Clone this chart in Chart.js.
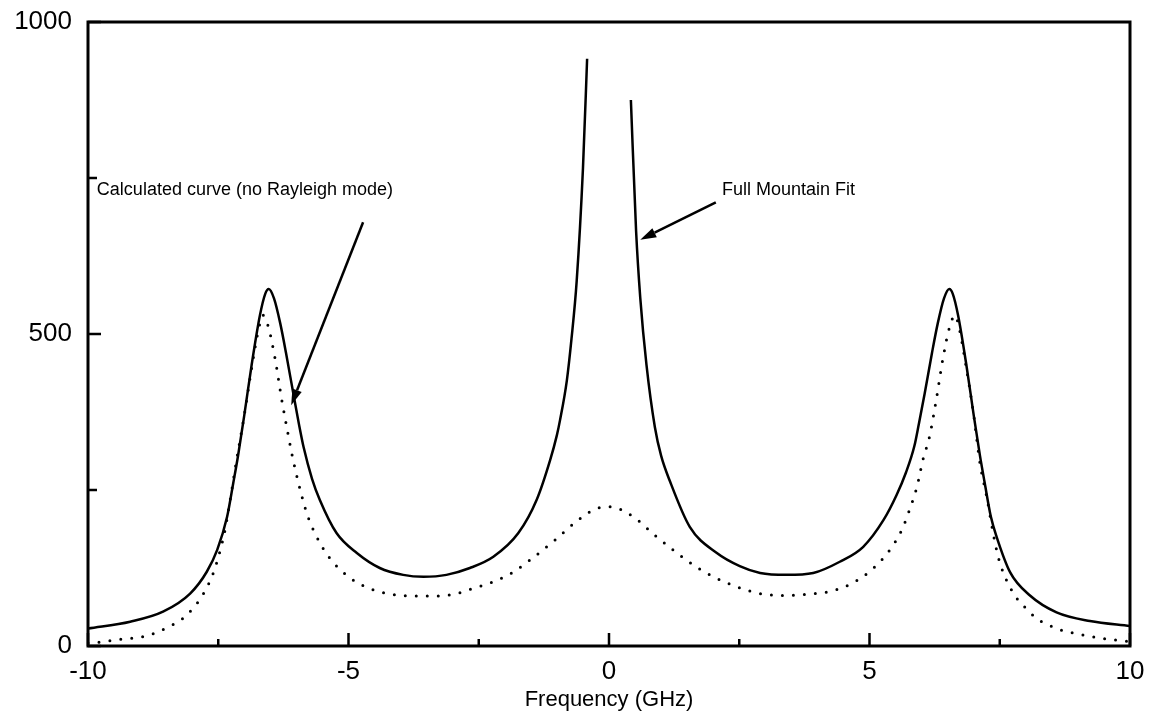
<!DOCTYPE html>
<html lang="en">
<head>
    <meta charset="UTF-8">
    <script src="https://cdn.jsdelivr.net/npm/chart.js"></script>
    <title>Frequency spectrum fit</title>
    <style>
        body {
            margin: 0;
            padding: 0;
            background: #ffffff;
        }
        canvas {
            display: block;
        }
    </style>
</head>
<body>
    <canvas id="spectrumChart" width="1156" height="722"></canvas>

    <script>
        // Full Mountain fit (solid) - the central Rayleigh spike is cut off, hence the null
        const fullFreq = [-10, -9.19, -8.56, -8.04, -7.72, -7.52, -7.33, -7.21, -7.12, -7, -6.86, -6.7, -6.6, -6.53, -6.43, -6.31, -6.2,
            -6.06, -5.95, -5.86, -5.7, -5.55, -5.23, -4.84, -4.4, -3.95, -3.56, -3.12, -2.67, -2.22, -1.74, -1.39, -1.13, -1.0, -0.94,
            -0.81, -0.72, -0.62, -0.5, -0.42,
            0,
            0.42, 0.52, 0.6, 0.72, 0.88, 1.0, 1.17, 1.55, 2.07, 2.51, 2.9, 3.41, 3.92, 4.43, 4.88, 5.27, 5.52, 5.7, 5.86, 5.95, 6.06,
            6.2, 6.31, 6.43, 6.53, 6.6, 6.7, 6.86, 7, 7.12, 7.21, 7.33, 7.44, 7.7, 8.08, 8.59, 9.23, 10];
        const fullCounts = [28, 39, 55, 84, 119, 154, 207, 262, 305, 370, 450, 530, 564, 572, 557, 517, 470,
            405, 355, 318, 268, 234, 181, 149, 125, 114, 111, 114, 125, 143, 181, 234, 298, 338, 362,
            425, 492, 585, 765, 941,
            null,
            875, 665, 558, 450, 351, 305, 264, 191, 149, 128, 117, 114, 117, 135, 159, 202, 242, 278, 320, 357, 405,
            470, 517, 557, 572, 564, 530, 450, 370, 305, 262, 207, 175, 118, 81, 54, 40, 32];

        // Calculated curve without the Rayleigh mode (dotted)
        const calcFreq = [-10, -9.8, -9.35, -8.94, -8.52, -8.1, -7.79, -7.6, -7.47, -7.37, -7.31, -7.24, -7.18, -7, -6.85, -6.72,
            -6.64, -6.54, -6.41, -6.28, -6.15, -6.09, -5.96, -5.79, -5.61, -5.37, -5, -4.59, -4.17, -3.76, -3.34, -2.92, -2.7,
            -2.28, -1.87, -1.45, -1.02, -0.59, -0.17, 0.02, 0.45, 0.86, 1.29, 1.71, 2.13, 2.55, 2.96, 3.38, 3.79, 4.21, 4.63,
            5.04, 5.39, 5.62, 5.78, 5.91, 6.03, 6.15, 6.28, 6.41, 6.54, 6.64, 6.72, 6.85, 7, 7.12, 7.25, 7.38, 7.47, 7.6,
            7.83, 8.02, 8.21, 8.43, 8.66, 9.07, 9.49, 9.9, 10];
        const calcCounts = [5, 6, 11, 15, 28, 50, 83, 116, 151, 186, 215, 250, 282, 370, 450, 510,
            530, 512, 461, 394, 335, 309, 261, 210, 175, 142, 111, 92, 83, 80, 80, 84, 90,
            101, 117, 142, 171, 202, 222, 223, 208, 179, 150, 125, 106, 92, 83, 81, 83, 87, 99,
            122, 154, 186, 221, 255, 300, 335, 394, 461, 512, 530, 510, 450, 370, 293, 239, 178, 143, 111,
            76, 59, 44, 34, 26, 18, 12, 8, 7];

        const xTicks = [-10, -5, 0, 5, 10];
        const xMinorTicks = [-7.5, -2.5, 2.5, 7.5];
        const yTicks = [0, 500, 1000];
        const yMinorTicks = [250, 750];

        // labels with arrows: text anchor, arrow tail and arrow tip in data units
        const notes = [
            { text: 'Calculated curve (no Rayleigh mode)', at: [-9.83, 731], from: [-4.72, 679], to: [-6.1, 386] },
            { text: 'Full Mountain Fit', at: [2.17, 731], from: [2.05, 711], to: [0.6, 651] }
        ];

        const toPoints = (xs, ys) => xs.map((v, i) => ({ x: v, y: ys[i] }));

        const frame = {
            id: 'frame',
            afterDatasetsDraw(chart) {
                const { ctx, chartArea: a, scales: { x, y } } = chart;
                ctx.save();
                ctx.strokeStyle = '#000';
                ctx.fillStyle = '#000';
                ctx.lineWidth = 3;
                ctx.strokeRect(a.left, a.top, a.right - a.left, a.bottom - a.top);

                // inward ticks on bottom and left axes
                ctx.lineWidth = 2.5;
                ctx.beginPath();
                xTicks.forEach(v => { const px = x.getPixelForValue(v); ctx.moveTo(px, a.bottom); ctx.lineTo(px, a.bottom - 13); });
                xMinorTicks.forEach(v => { const px = x.getPixelForValue(v); ctx.moveTo(px, a.bottom); ctx.lineTo(px, a.bottom - 7); });
                yTicks.forEach(v => { const py = y.getPixelForValue(v); ctx.moveTo(a.left, py); ctx.lineTo(a.left + 13, py); });
                yMinorTicks.forEach(v => { const py = y.getPixelForValue(v); ctx.moveTo(a.left, py); ctx.lineTo(a.left + 9, py); });
                ctx.stroke();

                // annotations
                ctx.font = '18px "Liberation Sans", Arial, sans-serif';
                ctx.textBaseline = 'middle';
                ctx.textAlign = 'left';
                notes.forEach(n => {
                    ctx.fillText(n.text, x.getPixelForValue(n.at[0]), y.getPixelForValue(n.at[1]));
                    const x1 = x.getPixelForValue(n.from[0]), y1 = y.getPixelForValue(n.from[1]);
                    const x2 = x.getPixelForValue(n.to[0]), y2 = y.getPixelForValue(n.to[1]);
                    const ang = Math.atan2(y2 - y1, x2 - x1);
                    const len = 16, half = 5;
                    const bx = x2 - len * Math.cos(ang), by = y2 - len * Math.sin(ang);
                    ctx.lineWidth = 2.5;
                    ctx.beginPath();
                    ctx.moveTo(x1, y1);
                    ctx.lineTo(bx, by);
                    ctx.stroke();
                    ctx.beginPath();
                    ctx.moveTo(x2, y2);
                    ctx.lineTo(bx + half * Math.sin(ang), by - half * Math.cos(ang));
                    ctx.lineTo(bx - half * Math.sin(ang), by + half * Math.cos(ang));
                    ctx.closePath();
                    ctx.fill();
                });
                ctx.restore();
            }
        };

        new Chart(document.getElementById('spectrumChart').getContext('2d'), {
            type: 'line',
            data: {
                datasets: [{
                    label: 'Full Mountain Fit',
                    data: toPoints(fullFreq, fullCounts),
                    borderColor: '#000',
                    borderWidth: 2.5,
                    pointRadius: 0,
                    cubicInterpolationMode: 'monotone',
                    spanGaps: false,
                    fill: false
                }, {
                    label: 'Calculated curve (no Rayleigh mode)',
                    data: toPoints(calcFreq, calcCounts),
                    borderColor: '#000',
                    borderWidth: 3,
                    borderDash: [0, 11],
                    borderCapStyle: 'round',
                    pointRadius: 0,
                    cubicInterpolationMode: 'monotone',
                    fill: false
                }]
            },
            options: {
                responsive: false,
                animation: false,
                layout: { padding: { top: 22, right: 26, left: 0, bottom: 0 } },
                plugins: {
                    legend: { display: false },
                    tooltip: { enabled: false }
                },
                scales: {
                    x: {
                        type: 'linear',
                        min: -10,
                        max: 10,
                        afterFit: s => { s.height = 76; s.paddingLeft = 0; s.paddingRight = 0; },
                        afterBuildTicks: s => { s.ticks = xTicks.map(v => ({ value: v })); },
                        grid: { display: false, drawTicks: false },
                        border: { display: false },
                        ticks: {
                            color: '#000',
                            padding: 10,
                            maxRotation: 0,
                            callback: v => String(v),
                            font: { family: '"Liberation Sans", Arial, sans-serif', size: 26 }
                        },
                        title: {
                            display: true,
                            text: 'Frequency (GHz)',
                            color: '#000',
                            padding: { top: 0, bottom: 9 },
                            font: { family: '"Liberation Sans", Arial, sans-serif', size: 22 }
                        }
                    },
                    y: {
                        min: 0,
                        max: 1000,
                        afterFit: s => { s.width = 88; s.paddingTop = 0; s.paddingBottom = 0; },
                        afterBuildTicks: s => { s.ticks = yTicks.map(v => ({ value: v })); },
                        grid: { display: false, drawTicks: false },
                        border: { display: false },
                        ticks: {
                            color: '#000',
                            padding: 16,
                            callback: v => String(v),
                            font: { family: '"Liberation Sans", Arial, sans-serif', size: 26 }
                        }
                    }
                }
            },
            plugins: [frame]
        });
    </script>
</body>
</html>
